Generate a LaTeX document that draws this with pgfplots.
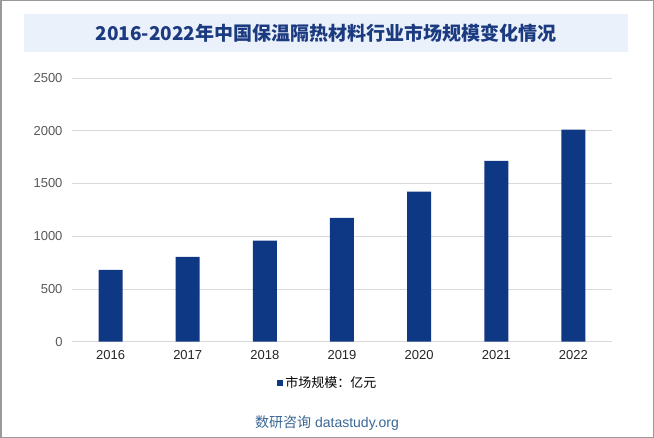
\documentclass[border=0pt]{standalone}
\usepackage{pgfplots}
\pgfplotsset{compat=1.18}
\usepackage{fontspec}
\setmainfont{Liberation Sans}
\newfontfamily\cjk{Noto Sans CJK SC}
\definecolor{barblue}{HTML}{0F3884}
\definecolor{bandblue}{HTML}{EAF1FB}
\definecolor{titleblue}{HTML}{1B3A80}
\definecolor{gridgray}{HTML}{D9D9D9}
\definecolor{ticklab}{HTML}{595959}
\definecolor{footblue}{HTML}{3A6795}
\begin{document}
\begin{tikzpicture}
\fill[white] (0bp,0bp) rectangle (654bp,438bp);
\draw[color=gray!80, line width=1.5bp] (0.75bp,0.75bp) rectangle (653.25bp,437.25bp);
\fill[bandblue] (24bp,386bp) rectangle (628bp,424bp);
\node[text=titleblue, font=\cjk\bfseries\fontsize{19bp}{23bp}\selectfont] at (326bp,405bp) {2016-2022年中国保温隔热材料行业市场规模变化情况};
\begin{axis}[
  at={(72bp,96.3bp)}, anchor=south west,
  width=540bp, height=263.7bp, scale only axis,
  xmin=-0.5, xmax=6.5, ymin=0, ymax=2500,
  ytick={0,500,1000,1500,2000,2500},
  xtick={0,1,2,3,4,5,6},
  xticklabels={2016,2017,2018,2019,2020,2021,2022},
  axis line style={draw=none},
  major tick length=0pt,
  ymajorgrids, grid style={draw=gridgray, line width=0.8bp},
  /pgf/number format/1000 sep={},
  /pgf/number format/assume math mode=true,
  yticklabel style={font=\fontsize{13bp}{15bp}\selectfont, text=ticklab, xshift=-6bp},
  xticklabel style={font=\fontsize{13bp}{15bp}\selectfont, text=black!85, yshift=-5bp},
  ybar, bar width=24bp,
  legend style={at={(0.474,-0.157)}, anchor=center, draw=none, fill=none,
    font=\cjk\fontsize{13bp}{15bp}\selectfont},
  legend image code/.code={\fill[barblue] (0bp,-3bp) rectangle (6bp,3bp);},
]
\addplot[fill=barblue, draw=none] coordinates {(0,680) (1,805) (2,958) (3,1175) (4,1423) (5,1715) (6,2010)};
\addlegendentry{市场规模：亿元}
\end{axis}
\node[text=footblue, font=\fontsize{14bp}{17bp}\selectfont] at (327bp,15.3bp) {{\cjk 数研咨询} datastudy.org};
\end{tikzpicture}
\end{document}
